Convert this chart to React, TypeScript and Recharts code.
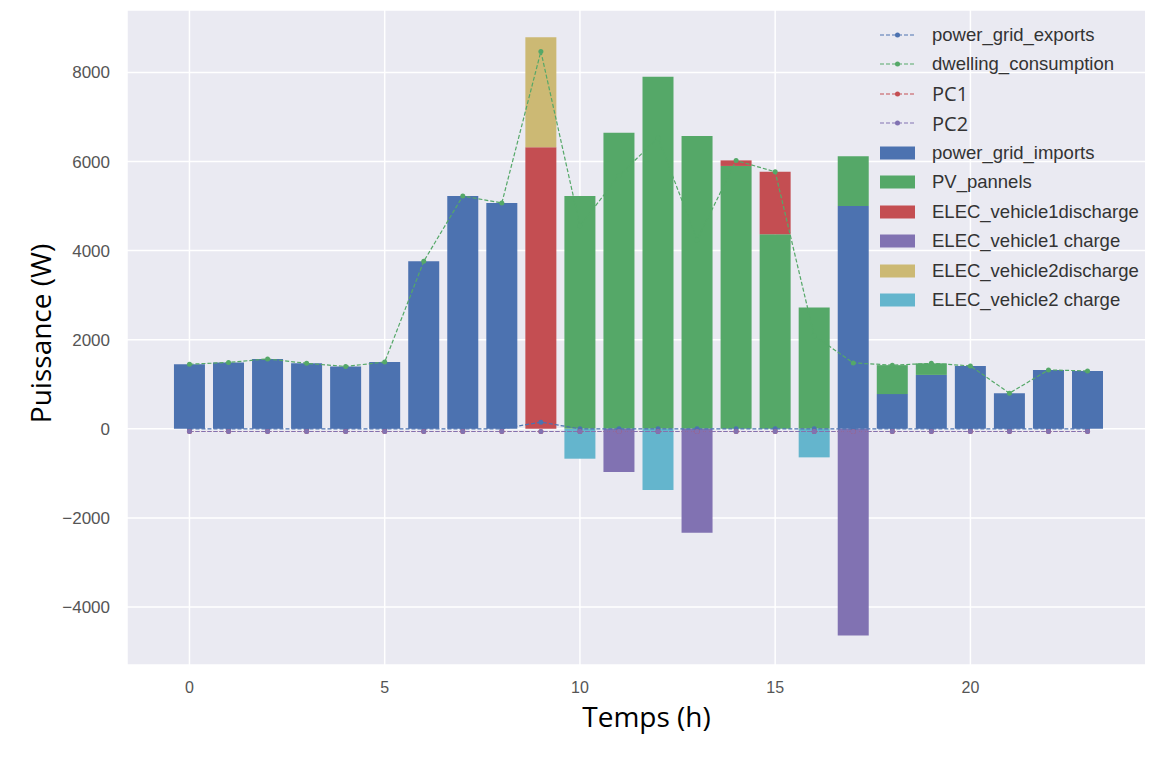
import React from 'react';
import { ComposedChart, Bar, Line, XAxis, YAxis, CartesianGrid, Legend, Label } from 'recharts';

const hours = [0, 1, 2, 3, 4, 5, 6, 7, 8, 9, 10, 11, 12, 13, 14, 15, 16, 17, 18, 19, 20, 21, 22, 23];

const powerGridImports = [1450, 1490, 1570, 1470, 1400, 1500, 3760, 5225, 5070, 0, 0, 0, 0, 0, 0, 0, 0, 5000, 780, 1210, 1413, 800, 1323, 1300];
const pvPannels = [0, 0, 0, 0, 0, 0, 0, 0, 0, 0, 5225, 6645, 7900, 6570, 5900, 4370, 2725, 1120, 650, 260, 0, 0, 0, 0];
const ev1Discharge = [0, 0, 0, 0, 0, 0, 0, 0, 0, 6320, 0, 0, 0, 0, 125, 1400, 0, 0, 0, 0, 0, 0, 0, 0];
const ev1Charge = [0, 0, 0, 0, 0, 0, 0, 0, 0, 0, 0, -970, 0, -2330, 0, 0, 0, -4640, 0, 0, 0, 0, 0, 0];
const ev2Discharge = [0, 0, 0, 0, 0, 0, 0, 0, 0, 2470, 0, 0, 0, 0, 0, 0, 0, 0, 0, 0, 0, 0, 0, 0];
const ev2Charge = [0, 0, 0, 0, 0, 0, 0, 0, 0, 0, -670, 0, -1370, 0, 0, 0, -640, 0, 0, 0, 0, 0, 0, 0];

const powerGridExports = [0, 0, 0, 0, 0, 0, 0, 0, 0, 150, 0, 0, 0, 0, 0, 0, 0, 0, 0, 0, 0, 0, 0, 0];
const dwellingConsumption = [1450, 1490, 1570, 1470, 1400, 1500, 3760, 5225, 5070, 8470, 4560, 5680, 6530, 4240, 6020, 5770, 2090, 1480, 1430, 1470, 1413, 800, 1323, 1300];
const pc1 = [-60, -60, -60, -60, -60, -60, -60, -60, -60, -60, -60, -60, -60, -60, -60, -60, -60, -60, -60, -60, -60, -60, -60, -60];
const pc2 = [-60, -60, -60, -60, -60, -60, -60, -60, -60, -60, -60, -60, -60, -60, -60, -60, -60, -60, -60, -60, -60, -60, -60, -60];

const xTicks = [0, 5, 10, 15, 20];
const yTicks = [-4000, -2000, 0, 2000, 4000, 6000, 8000];

const BLUE = '#4C72B0';
const GREEN = '#55A868';
const RED = '#C44E52';
const PURPLE = '#8172B2';
const GOLD = '#CCB974';
const CYAN = '#64B5CD';

const data = hours.map((h, i) => ({
  h,
  imports: powerGridImports[i],
  pv: pvPannels[i],
  ev1d: ev1Discharge[i],
  ev1c: ev1Charge[i],
  ev2d: ev2Discharge[i],
  ev2c: ev2Charge[i],
  exports: powerGridExports[i],
  dwelling: dwellingConsumption[i],
  pc1: pc1[i],
  pc2: pc2[i],
}));

const legendItems = [
  { name: 'power_grid_exports', color: BLUE, kind: 'line' },
  { name: 'dwelling_consumption', color: GREEN, kind: 'line' },
  { name: 'PC1', color: RED, kind: 'line', alt: true },
  { name: 'PC2', color: PURPLE, kind: 'line', alt: true },
  { name: 'power_grid_imports', color: BLUE, kind: 'bar' },
  { name: 'PV_pannels', color: GREEN, kind: 'bar' },
  { name: 'ELEC_vehicle1discharge', color: RED, kind: 'bar' },
  { name: 'ELEC_vehicle1 charge', color: PURPLE, kind: 'bar' },
  { name: 'ELEC_vehicle2discharge', color: GOLD, kind: 'bar' },
  { name: 'ELEC_vehicle2 charge', color: CYAN, kind: 'bar' },
];

const renderLegend = () => (
  <div style={{ fontFamily: '"Liberation Sans", Arial, sans-serif', fontSize: 18.5, color: '#333' }}>
    {legendItems.map((it) => (
      <div key={it.name} style={{ height: 29.5, display: 'flex', alignItems: 'center', whiteSpace: 'nowrap' }}>
        <svg width={35} height={16} style={{ marginRight: 17, flex: 'none' }}>
          {it.kind === 'line' ? (
            <g>
              <line x1={0} x2={35} y1={8} y2={8} stroke={it.color} strokeWidth={1.2} strokeDasharray="4 2" />
              <circle cx={17.5} cy={8} r={2.5} fill={it.color} />
            </g>
          ) : (
            <rect x={0} y={1.5} width={35} height={13} fill={it.color} />
          )}
        </svg>
        <span style={it.alt ? { fontFamily: '"Open Sans", sans-serif', fontSize: 20 } : undefined}>{it.name}</span>
      </div>
    ))}
  </div>
);

const fmtY = (v: number) => (v < 0 ? '\u2212' + Math.abs(v) : String(v));

const YTitle = (props: any) => {
  const vb = props.viewBox || { x: 0, y: 0, width: 0, height: 0 };
  const cx = vb.x + 32;
  const cy = vb.y + vb.height / 2 - 4;
  return (
    <text x={cx} y={cy} transform={`rotate(-90, ${cx}, ${cy})`} textAnchor="middle" dominantBaseline="central"
      style={{ fontFamily: '"Open Sans", sans-serif', fontSize: 28, fill: '#000' }}>
      Puissance (W)
    </text>
  );
};

const XTitle = (props: any) => {
  const vb = props.viewBox || { x: 0, y: 0, width: 0, height: 0 };
  const cx = vb.x + vb.width / 2 + 8;
  const cy = vb.y + 51;
  return (
    <text x={cx} y={cy} textAnchor="middle" dominantBaseline="central"
      style={{ fontFamily: '"Open Sans", sans-serif', fontSize: 28, fill: '#000' }}>
      Temps (h)
    </text>
  );
};

export default function App() {
  return (
    <div style={{ width: 1145, height: 749, background: '#fff' }}>
      <ComposedChart width={1145} height={749} data={data} stackOffset="sign"
        margin={{ top: 2, right: 3, left: 0, bottom: 62 }}>
        <CartesianGrid fill="#EAEAF2" stroke="#ffffff" strokeWidth={1.5} />
        <XAxis type="number" dataKey="h" domain={[-1.6, 24.6]} ticks={xTicks} allowDataOverflow
          axisLine={false} tickLine={false} tickSize={0} tickMargin={17} height={30}
          tick={{ fontFamily: '"Liberation Sans", Arial, sans-serif', fontSize: 16, fill: '#555' }}>
          <Label content={<XTitle />} />
        </XAxis>
        <YAxis type="number" domain={[-5300, 9400]} ticks={yTicks} allowDataOverflow width={119}
          axisLine={false} tickLine={false} tickSize={0} tickMargin={17} tickFormatter={fmtY}
          tick={{ fontFamily: '"Liberation Sans", Arial, sans-serif', fontSize: 17, fill: '#555' }}>
          <Label content={<YTitle />} />
        </YAxis>
        <Bar dataKey="imports" name="power_grid_imports" stackId="s" fill={BLUE} barSize={31} isAnimationActive={false} />
        <Bar dataKey="pv" name="PV_pannels" stackId="s" fill={GREEN} barSize={31} isAnimationActive={false} />
        <Bar dataKey="ev1d" name="ELEC_vehicle1discharge" stackId="s" fill={RED} barSize={31} isAnimationActive={false} />
        <Bar dataKey="ev1c" name="ELEC_vehicle1 charge" stackId="s" fill={PURPLE} barSize={31} isAnimationActive={false} />
        <Bar dataKey="ev2d" name="ELEC_vehicle2discharge" stackId="s" fill={GOLD} barSize={31} isAnimationActive={false} />
        <Bar dataKey="ev2c" name="ELEC_vehicle2 charge" stackId="s" fill={CYAN} barSize={31} isAnimationActive={false} />
        <Line dataKey="exports" name="power_grid_exports" type="linear" stroke={BLUE} strokeWidth={1.2} strokeDasharray="4 2"
          dot={{ r: 2.5, fill: BLUE, stroke: 'none' }} activeDot={false} isAnimationActive={false} />
        <Line dataKey="dwelling" name="dwelling_consumption" type="linear" stroke={GREEN} strokeWidth={1.2} strokeDasharray="4 2"
          dot={{ r: 2.5, fill: GREEN, stroke: 'none' }} activeDot={false} isAnimationActive={false} />
        <Line dataKey="pc1" name="PC1" type="linear" stroke={RED} strokeWidth={1.2} strokeDasharray="4 2"
          dot={{ r: 2.5, fill: RED, stroke: 'none' }} activeDot={false} isAnimationActive={false} />
        <Line dataKey="pc2" name="PC2" type="linear" stroke={PURPLE} strokeWidth={1.2} strokeDasharray="4 2"
          dot={{ r: 2.5, fill: PURPLE, stroke: 'none' }} activeDot={false} isAnimationActive={false} />
        <Legend content={renderLegend} layout="vertical" align="center" verticalAlign="middle"
          wrapperStyle={{ left: 872, top: 12, width: 275 }} />
      </ComposedChart>
    </div>
  );
}
